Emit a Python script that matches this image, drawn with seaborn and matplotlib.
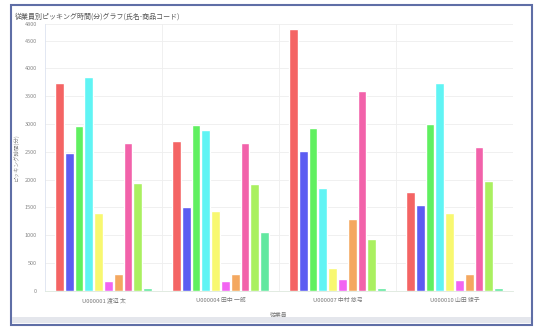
import matplotlib
matplotlib.use("Agg")
import matplotlib.pyplot as plt
import seaborn as sns
import pandas as pd
from matplotlib.patches import Rectangle

# Employees (x categories) and product codes (hue series)
employees = ["U000001 渡辺 太", "U000004 田中 一郎", "U000007 中村 悠弓", "U000010 山田 綾子"]
products = ["P001", "P002", "P003", "P004", "P005", "P006", "P007", "P008", "P009", "P010"]

# Picking minutes per employee, one list per product code
p001 = [3730, 2700, 4700, 1780]
p002 = [2470, 1500, 2520, 1540]
p003 = [2960, 2975, 2920, 2995]
p004 = [3840, 2890, 1840, 3740]
p005 = [1400, 1440, 400, 1400]
p006 = [180, 180, 205, 190]
p007 = [300, 300, 1285, 300]
p008 = [2650, 2660, 3600, 2580]
p009 = [1945, 1915, 925, 1980]
p010 = [55, 1055, 55, 55]

y_ticks = [0, 500, 1000, 1500, 2000, 2500, 3000, 3500, 4000, 4500, 4800]

series = [p001, p002, p003, p004, p005, p006, p007, p008, p009, p010]
rows = []
for prod, vals in zip(products, series):
    for emp, v in zip(employees, vals):
        rows.append({"従業員": emp, "商品コード": prod, "時間": v})
df = pd.DataFrame(rows)

palette = ["#f46464", "#5c5cf2", "#60f060", "#60f4f4", "#f8f870",
           "#f264f2", "#f4a860", "#f262aa", "#aaf060", "#62e8a0"]

sns.set_theme(style="white")
plt.rcParams["font.family"] = ["Noto Sans CJK JP", "DejaVu Sans"]

fig = plt.figure(figsize=(5.44, 3.29), dpi=100)
W, H = 544, 329

# window frame around the chart
fig.patches.append(Rectangle((11 / W, 1 - 325 / H), 521 / W, 320 / H,
                             transform=fig.transFigure, fill=False,
                             edgecolor="#5f6ea6", linewidth=1.5, zorder=0))
fig.patches.append(Rectangle((12 / W, 1 - 323 / H), 519 / W, 6 / H,
                             transform=fig.transFigure, facecolor="#e4e6ec",
                             edgecolor="none", zorder=0))

ax = fig.add_axes([45 / W, 1 - 290.7 / H, 468 / W, (290.7 - 23.9) / H])
sns.barplot(data=df, x="従業員", y="時間", hue="商品コード", palette=palette,
            width=0.84, gap=0.1, saturation=1, legend=False, ax=ax)

ax.set_ylim(0, 4800)
ax.set_xlim(-0.5, len(employees) - 0.5)
ax.set_yticks(y_ticks)
ax.set_yticklabels([str(t) for t in y_ticks], fontsize=4, color="#888888")
ax.tick_params(axis="x", labelsize=4.2, colors="#777777", length=0, pad=5)
ax.tick_params(axis="y", length=0, pad=6)
ax.yaxis.grid(True, color="#eeeeee", linewidth=0.6)
ax.set_axisbelow(True)
for xb in [0.5, 1.5, 2.5]:
    ax.axvline(xb, color="#eeeeee", linewidth=0.6, zorder=0)
for s in ["top", "right"]:
    ax.spines[s].set_visible(False)
ax.spines["left"].set_color("#dde3f0")
ax.spines["left"].set_linewidth(0.6)
ax.spines["bottom"].set_color("#dde8dd")
ax.spines["bottom"].set_linewidth(0.6)

ax.set_xlabel("従業員", fontsize=4.2, color="#777777", labelpad=6)
ax.set_ylabel("ピッキング時間(分)", fontsize=4, color="#888888", labelpad=4)

fig.text(15 / W, 1 - 17 / H, "従業員別ピッキング時間(分)グラフ(氏名-商品コード)",
         fontsize=5, color="#555555", va="center", ha="left")

fig.savefig("out.png", dpi=100)
